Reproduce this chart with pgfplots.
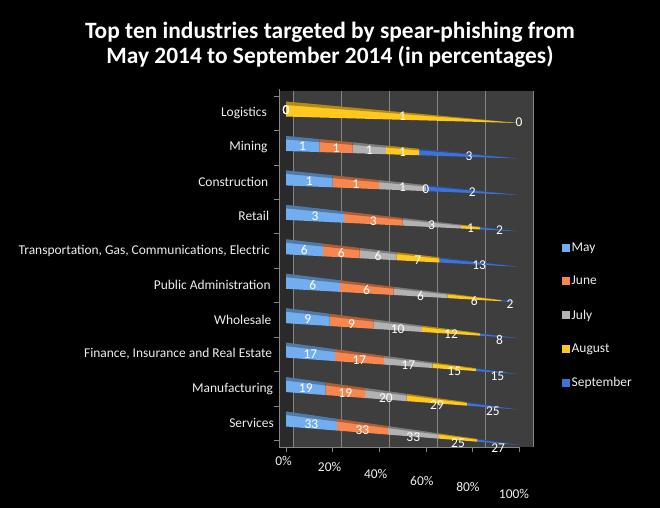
\documentclass[border=0pt]{standalone}
\usepackage{fontspec}
\setmainfont{Carlito}
\usepackage{pgfplots}
\pgfplotsset{compat=1.18}
\usepackage{pgfplotstable}
\definecolor{wallc}{HTML}{3E3E3E}
\definecolor{sidec}{HTML}{2A2A2A}
\definecolor{gridc}{HTML}{858585}
\definecolor{mayc}{HTML}{72AEEF}
\definecolor{junc}{HTML}{F7874F}
\definecolor{julc}{HTML}{B2B2B2}
\definecolor{augc}{HTML}{FFC81E}
\definecolor{sepc}{HTML}{3D73D8}
\definecolor{txtc}{HTML}{EEEEEE}

% k: row (0 = Services at bottom), values as shown, T = row total
\pgfplotstableread{
k May Jun Jul Aug Sep T
0 33 33 33 25 27 151
1 19 19 20 29 25 112
2 17 17 17 15 15 81
3 9 9 10 12 8 48
4 6 6 6 6 2 26
5 6 6 6 7 13 38
6 3 3 3 1 2 12
7 1 1 1 0 2 5
8 1 1 1 1 3 7
9 0 0 0 1 0 1
}\data

\newcommand{\labplot}[2]{%
  \addplot[forget plot, draw=none, mark=none, nodes near coords,
    point meta=explicit symbolic, nodes near coords align={center},
    every node near coord/.append style={anchor=center, text=white,
      font=\fontsize{13.5}{15}\selectfont, inner sep=0pt}]
  table[x expr={(#1)/\thisrow{T}*100},
        y expr={\thisrow{k}+(2.5-(0.12+0.021*(9-\thisrow{k}))*(#1)/\thisrow{T}*100)/34.44},
        meta=#2]{\data};}

\begin{document}
\begin{tikzpicture}
\fill[black] (0bp,0bp) rectangle (660bp,508bp);
\node[white, font=\bfseries\fontsize{23.5}{25.5}\selectfont, align=center] at (330bp,463bp)
  {Top ten industries targeted by spear-phishing from\\May 2014 to September 2014 (in percentages)};

% walls
\begin{axis}[at={(279bp,61bp)}, anchor=south west, scale only axis,
  width=254bp, height=356bp, xmin=-5.83, xmax=100, ymin=0, ymax=1,
  axis line style={draw=none}, axis background/.style={fill=wallc},
  xtick={0,20,40,60,80,100}, xticklabels={}, ytick=\empty,
  xmajorgrids, grid style={gridc, line width=0.6bp}, major tick length=0]
\fill[sidec] (axis cs:-5.83,0) rectangle (axis cs:0,1);
\addplot[draw=none, forget plot] coordinates {(50,0.5)};
\end{axis}

% bars, clipped to pyramid wedges
\begin{scope}
\clip \foreach \k/\a in {0/22,1/21,2/20,3/18.5,4/17,5/16,6/15,7/13,8/11,9/10}
  {(286bp,{(85+34.44*\k+11.5)*1bp}) -- (519bp,{(85+34.44*\k-\a)*1bp}) -- (286bp,{(85+34.44*\k-3.5)*1bp}) -- cycle};
\begin{axis}[at={(279bp,60.9bp)}, anchor=south west, scale only axis,
  width=240bp, height=358.2bp, xmin=-3, xmax=100, ymin=-0.7, ymax=9.7,
  xbar stacked, bar width=34bp, hide axis]
\addplot[fill=mayc, draw=none] table[x expr=\thisrow{May}/\thisrow{T}*100, y expr=\thisrow{k}-0.15]{\data};
\addplot[fill=junc, draw=none] table[x expr=\thisrow{Jun}/\thisrow{T}*100, y expr=\thisrow{k}-0.15]{\data};
\addplot[fill=julc, draw=none] table[x expr=\thisrow{Jul}/\thisrow{T}*100, y expr=\thisrow{k}-0.15]{\data};
\addplot[fill=augc, draw=none] table[x expr=\thisrow{Aug}/\thisrow{T}*100, y expr=\thisrow{k}-0.15]{\data};
\addplot[fill=sepc, draw=none] table[x expr=\thisrow{Sep}/\thisrow{T}*100, y expr=\thisrow{k}-0.15]{\data};
\end{axis}
\foreach \k/\a in {0/22,1/21,2/20,3/18.5,4/17,5/16,6/15,7/13,8/11,9/10}
  \fill[black, opacity=0.3] (286bp,{(85+34.44*\k+11.5)*1bp}) -- (519bp,{(85+34.44*\k-\a)*1bp}) -- (286bp,{(85+34.44*\k+8)*1bp}) -- cycle;
\end{scope}

% labels, ticks, legend
\begin{axis}[at={(279bp,60.9bp)}, anchor=south west, scale only axis, clip=false,
  width=240bp, height=358.2bp, xmin=-3, xmax=100, ymin=-0.7, ymax=9.7,
  axis x line*=bottom, axis y line*=left, axis line style={gridc},
  xtick={0,20,40,60,80,100}, xticklabels={0\%,20\%,40\%,60\%,80\%,100\%},
  ytick={0,...,9},
  yticklabels={Services,Manufacturing,{Finance, Insurance and Real Estate},Wholesale,Public Administration,{Transportation, Gas, Communications, Electric},Retail,Construction,Mining,Logistics},
  minor ytick={-0.5,0.5,...,9.5},
  tick align=outside, major tick length=5bp, minor tick length=5bp,
  tick style={gridc}, major y tick style={draw=none},
  xticklabel style={text=txtc, font=\fontsize{13.5}{15}\selectfont, yshift={-0.5-6.6*\ticknum}, xshift={-2.5-0.5*\ticknum}},
  yticklabel style={text=txtc, font=\fontsize{13.5}{15}\selectfont, xshift={3.3-0.78*\ticknum}},
  legend style={at={(1.167,0.583)}, anchor=north west, draw=none, fill=none,
    text=txtc, font=\fontsize{13.5}{15}\selectfont, row sep=19.5bp},
  legend cell align=left,
  legend image code/.code={\fill[#1] (0bp,-3.5bp) rectangle (7bp,3.5bp);}]
\labplot{\thisrow{May}/2}{May}
\labplot{\thisrow{May}+\thisrow{Jun}/2}{Jun}
\labplot{\thisrow{May}+\thisrow{Jun}+\thisrow{Jul}/2}{Jul}
\labplot{\thisrow{May}+\thisrow{Jun}+\thisrow{Jul}+\thisrow{Aug}/2}{Aug}
\labplot{\thisrow{May}+\thisrow{Jun}+\thisrow{Jul}+\thisrow{Aug}+\thisrow{Sep}/2}{Sep}
\addlegendimage{mayc}\addlegendentry{May}
\addlegendimage{junc}\addlegendentry{June}
\addlegendimage{julc}\addlegendentry{July}
\addlegendimage{augc}\addlegendentry{August}
\addlegendimage{sepc}\addlegendentry{September}
\end{axis}
\pgfresetboundingbox
\path[use as bounding box] (0bp,0bp) rectangle (660bp,508bp);
\end{tikzpicture}
\end{document}
